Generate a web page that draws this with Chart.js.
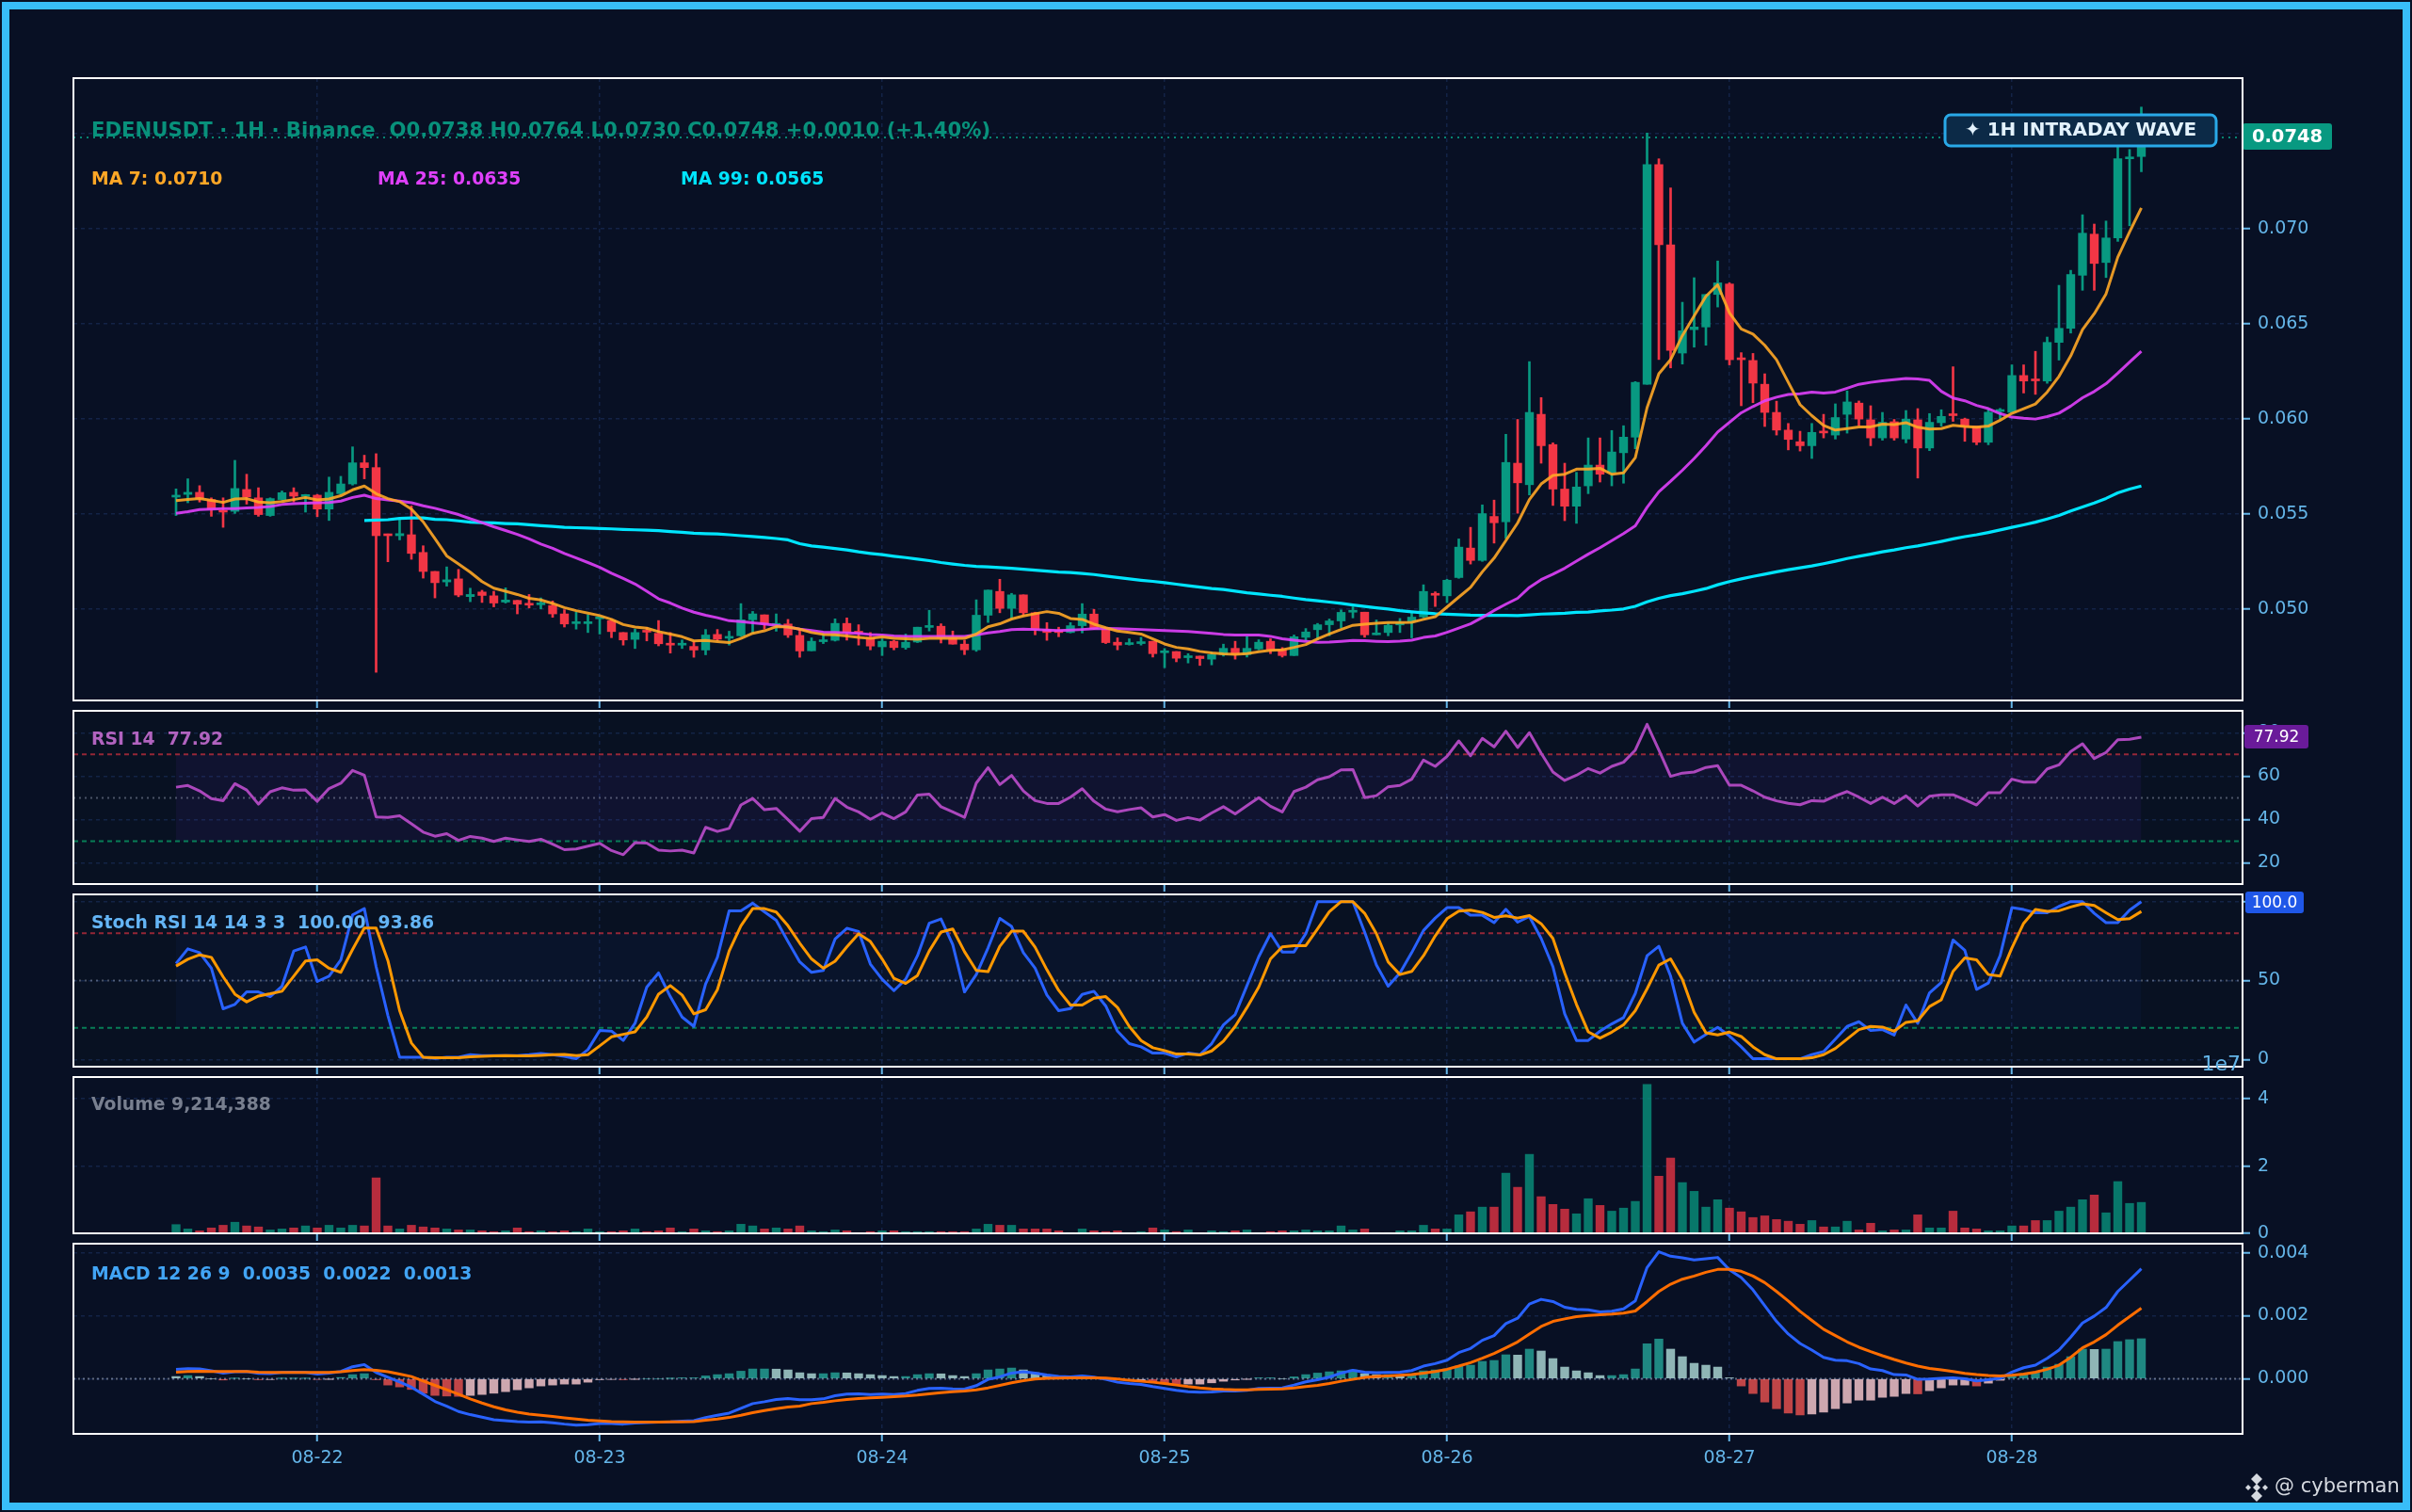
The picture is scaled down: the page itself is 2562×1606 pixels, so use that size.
<!DOCTYPE html>
<html lang="en">
  <head>
    <meta charset="UTF-8" />
    <title>EDENUSDT 1H</title>
    <script src="https://cdn.jsdelivr.net/npm/chart.js"></script>
    <style>
      html, body { margin: 0; padding: 0; background: #081024; }
      body { width: 2562px; height: 1606px; position: relative; overflow: hidden; }
      canvas { position: absolute; left: 0; }
      #frame {
        position: absolute; left: 2px; top: 2px; width: 2542px; height: 1586px;
        border: 8px solid #38bdf8; pointer-events: none; z-index: 5;
      }
    </style>
  </head>
  <body>
    <div id="frame"></div>
    <script>
      // one candle per hour, 08-21 12:00 to 08-28 11:00 (12 values per row)
      const opens = [
        0.0559, 0.05604, 0.05615, 0.05577, 0.0552, 0.05515, 0.0563, 0.05586, 0.05493, 0.05577, 0.05615, 0.05593,
        0.056, 0.05527, 0.05608, 0.05659, 0.0577, 0.05745, 0.05396, 0.05387, 0.05392, 0.05299, 0.05199, 0.05144,
        0.0516, 0.05067, 0.05091, 0.05071, 0.05038, 0.05047, 0.05027, 0.05024, 0.0502, 0.04976, 0.04925, 0.04925,
        0.0495, 0.0494, 0.04878, 0.04842, 0.04887, 0.04874, 0.04819, 0.04812, 0.04805, 0.04786, 0.04868, 0.04848,
        0.04861, 0.04945, 0.04971, 0.04916, 0.04923, 0.04863, 0.04782, 0.0483, 0.04837, 0.04926, 0.04885, 0.04853,
        0.04803, 0.04832, 0.04799, 0.04828, 0.04905, 0.04911, 0.0485, 0.04817, 0.04787, 0.04969, 0.05094, 0.05005,
        0.05076, 0.04982, 0.04894, 0.04889, 0.04878, 0.04914, 0.04975, 0.04898, 0.04827, 0.04815, 0.0482, 0.04832,
        0.04772, 0.04778, 0.04746, 0.04754, 0.04738, 0.04762, 0.04795, 0.04762, 0.04792, 0.04832, 0.04787, 0.04757,
        0.04853, 0.04893, 0.04919, 0.04939, 0.04985, 0.04985, 0.04866, 0.04878, 0.04918, 0.04936, 0.0496, 0.05084,
        0.05071, 0.05167, 0.05322, 0.05257, 0.05488, 0.0546, 0.05768, 0.05655, 0.06025, 0.05866, 0.05632, 0.05542,
        0.05649, 0.05758, 0.0572, 0.05823, 0.05905, 0.06183, 0.07337, 0.06916, 0.06347, 0.0647, 0.06484, 0.06655,
        0.0671, 0.0632, 0.06308, 0.06183, 0.06035, 0.05942, 0.05881, 0.0586, 0.05937, 0.05916, 0.06025, 0.06084,
        0.05996, 0.05901, 0.05986, 0.05895, 0.05996, 0.05848, 0.05981, 0.06024, 0.06, 0.05964, 0.05878, 0.0604,
        0.06035, 0.06229, 0.06205, 0.062, 0.06403, 0.06477, 0.06756, 0.06972, 0.06823, 0.06952, 0.07368, 0.0738,
      ];
      const closes = [
        0.056, 0.05615, 0.05582, 0.05527, 0.05511, 0.05635, 0.0559, 0.05498, 0.05582, 0.05613, 0.05595, 0.056,
        0.05527, 0.05615, 0.05659, 0.0577, 0.05745, 0.05387, 0.05387, 0.05398, 0.05294, 0.05199, 0.0514, 0.05155,
        0.05075, 0.05078, 0.05073, 0.05033, 0.05049, 0.05027, 0.05022, 0.05029, 0.04976, 0.04923, 0.0493, 0.04932,
        0.04953, 0.04883, 0.04839, 0.04878, 0.0488, 0.04819, 0.04812, 0.04819, 0.04786, 0.04865, 0.04843, 0.04854,
        0.04945, 0.04976, 0.04923, 0.0492, 0.04865, 0.04781, 0.04832, 0.04835, 0.04926, 0.04878, 0.04875, 0.04807,
        0.04832, 0.04799, 0.04827, 0.04906, 0.04909, 0.0485, 0.04817, 0.04787, 0.04969, 0.05101, 0.05005, 0.05076,
        0.04982, 0.04894, 0.04878, 0.04878, 0.04914, 0.04975, 0.04898, 0.04825, 0.04812, 0.0482, 0.04828, 0.04767,
        0.04778, 0.04743, 0.04751, 0.04741, 0.04762, 0.04795, 0.04762, 0.04795, 0.04827, 0.04787, 0.04757, 0.04856,
        0.04881, 0.04919, 0.04939, 0.04984, 0.04988, 0.04866, 0.0487, 0.04916, 0.0492, 0.04959, 0.05094, 0.05074,
        0.05153, 0.05327, 0.05257, 0.05503, 0.05455, 0.05772, 0.05665, 0.06035, 0.0586, 0.05632, 0.05542, 0.05643,
        0.05758, 0.0571, 0.05827, 0.05905, 0.06193, 0.07337, 0.06916, 0.06361, 0.06464, 0.06484, 0.06655, 0.06716,
        0.06312, 0.06312, 0.06189, 0.06035, 0.05942, 0.05893, 0.0586, 0.0593, 0.05927, 0.06008, 0.0609, 0.06,
        0.05901, 0.05983, 0.05901, 0.06, 0.05848, 0.05983, 0.06014, 0.06018, 0.0596, 0.05878, 0.06036, 0.06045,
        0.06229, 0.062, 0.06201, 0.06403, 0.06477, 0.0676, 0.06977, 0.06818, 0.06952, 0.07368, 0.07376, 0.0748,
      ];
      const highs = [
        0.05633, 0.05686, 0.0565, 0.05586, 0.05586, 0.05783, 0.0571, 0.05639, 0.05586, 0.05622, 0.05639, 0.05604,
        0.05604, 0.05695, 0.05699, 0.05854, 0.0581, 0.05818, 0.05396, 0.05476, 0.05544, 0.05334, 0.05199, 0.05223,
        0.0521, 0.05111, 0.051, 0.05095, 0.05113, 0.05047, 0.05078, 0.0506, 0.05044, 0.04998, 0.04985, 0.04972,
        0.04955, 0.04949, 0.04878, 0.04896, 0.04905, 0.04941, 0.04878, 0.04839, 0.0483, 0.04894, 0.04894, 0.04885,
        0.0503, 0.04989, 0.04971, 0.04976, 0.04947, 0.04896, 0.0485, 0.0487, 0.0495, 0.04955, 0.04919, 0.04878,
        0.04845, 0.04837, 0.0487, 0.04906, 0.04995, 0.04924, 0.04886, 0.04837, 0.0505, 0.05101, 0.05158, 0.05084,
        0.05076, 0.04985, 0.0493, 0.04906, 0.0493, 0.0503, 0.05, 0.04903, 0.0485, 0.04845, 0.04853, 0.04832,
        0.04794, 0.04778, 0.04767, 0.04754, 0.04777, 0.04817, 0.04832, 0.04856, 0.0484, 0.04845, 0.04799, 0.04865,
        0.04899, 0.04926, 0.04949, 0.04997, 0.05013, 0.04985, 0.04944, 0.04927, 0.04952, 0.04982, 0.05129, 0.05092,
        0.05158, 0.0537, 0.05431, 0.05549, 0.05574, 0.0592, 0.05998, 0.06302, 0.06113, 0.05875, 0.05768, 0.0572,
        0.05901, 0.05901, 0.0594, 0.05965, 0.06197, 0.07503, 0.07368, 0.07215, 0.06614, 0.06743, 0.06655, 0.06831,
        0.06716, 0.06349, 0.06345, 0.06238, 0.06094, 0.05977, 0.05936, 0.05977, 0.06025, 0.0608, 0.06148, 0.06095,
        0.0607, 0.06035, 0.05998, 0.06045, 0.06055, 0.06029, 0.06049, 0.06275, 0.06005, 0.05964, 0.0605, 0.06056,
        0.06285, 0.06285, 0.06356, 0.06431, 0.06703, 0.06782, 0.07074, 0.07025, 0.07041, 0.075, 0.07417, 0.0764,
      ];
      const lows = [
        0.05493, 0.0556, 0.05564, 0.05489, 0.05431, 0.05504, 0.05553, 0.05489, 0.05489, 0.05573, 0.05564, 0.05511,
        0.05487, 0.05467, 0.05604, 0.05653, 0.05686, 0.04669, 0.0525, 0.05365, 0.05263, 0.05164, 0.0506, 0.05122,
        0.05066, 0.0504, 0.05036, 0.05013, 0.05033, 0.04976, 0.05007, 0.05002, 0.04958, 0.04907, 0.04896, 0.04878,
        0.0487, 0.04851, 0.04812, 0.04794, 0.04834, 0.04808, 0.0477, 0.04794, 0.04748, 0.04761, 0.04834, 0.04812,
        0.04857, 0.04874, 0.04896, 0.04885, 0.04852, 0.04748, 0.04782, 0.0482, 0.04833, 0.04838, 0.04812, 0.04787,
        0.04757, 0.04787, 0.0479, 0.04825, 0.04886, 0.04823, 0.04817, 0.04762, 0.04779, 0.04931, 0.04982, 0.04952,
        0.04969, 0.04866, 0.04837, 0.04856, 0.04876, 0.04876, 0.04894, 0.0482, 0.04787, 0.04812, 0.04812, 0.04749,
        0.04693, 0.04724, 0.04718, 0.04705, 0.04708, 0.04754, 0.04738, 0.04749, 0.04787, 0.04767, 0.04749, 0.04757,
        0.04837, 0.0484, 0.04861, 0.04903, 0.04955, 0.04853, 0.04866, 0.04861, 0.04878, 0.0485, 0.04955, 0.05015,
        0.05035, 0.05163, 0.05238, 0.05252, 0.05348, 0.05372, 0.05505, 0.05601, 0.05768, 0.05546, 0.05466, 0.05452,
        0.05608, 0.05669, 0.05649, 0.05663, 0.05844, 0.06183, 0.06313, 0.06269, 0.06289, 0.06378, 0.06388, 0.06589,
        0.06285, 0.0607, 0.06086, 0.05961, 0.05916, 0.05838, 0.05832, 0.05793, 0.05901, 0.05895, 0.05926, 0.05967,
        0.0586, 0.05889, 0.05889, 0.05875, 0.0569, 0.05834, 0.05963, 0.05988, 0.05883, 0.05865, 0.05865, 0.06,
        0.06035, 0.06137, 0.0613, 0.06188, 0.0631, 0.06452, 0.06677, 0.06677, 0.06744, 0.06934, 0.07016, 0.073,
      ];
      const ma7 = [
        0.05571, 0.05577, 0.05582, 0.05573, 0.05562, 0.0558, 0.05582, 0.05564, 0.0556, 0.05566, 0.05577, 0.05588,
        0.05575, 0.0558, 0.05597, 0.05628, 0.05648, 0.05608, 0.05582, 0.05566, 0.05527, 0.0546, 0.05372, 0.05281,
        0.05239, 0.05195, 0.05146, 0.05111, 0.05095, 0.05078, 0.05058, 0.05049, 0.05031, 0.05009, 0.04993, 0.0498,
        0.04967, 0.04947, 0.0492, 0.04907, 0.04901, 0.04883, 0.0487, 0.04856, 0.04834, 0.04836, 0.0483, 0.04825,
        0.04847, 0.04874, 0.04887, 0.04909, 0.04907, 0.04896, 0.04878, 0.04868, 0.04866, 0.0486, 0.04853, 0.04847,
        0.04855, 0.04848, 0.04845, 0.04843, 0.04847, 0.04848, 0.04848, 0.04847, 0.0487, 0.04908, 0.04924, 0.04949,
        0.04965, 0.04977, 0.04988, 0.04979, 0.04952, 0.04947, 0.04922, 0.04903, 0.04886, 0.04878, 0.0487, 0.04845,
        0.04818, 0.048, 0.04792, 0.04779, 0.04771, 0.04766, 0.04764, 0.04767, 0.04777, 0.04784, 0.04787, 0.048,
        0.04815, 0.04845, 0.0487, 0.04894, 0.04916, 0.04922, 0.04927, 0.04931, 0.04931, 0.04932, 0.04947, 0.04961,
        0.05012, 0.05064, 0.05115, 0.05197, 0.05269, 0.05361, 0.05454, 0.05577, 0.05659, 0.05704, 0.0571, 0.05737,
        0.05737, 0.05741, 0.0571, 0.05717, 0.05797, 0.0606, 0.06238, 0.06312, 0.06439, 0.06542, 0.06645, 0.06706,
        0.06558, 0.06474, 0.06447, 0.06388, 0.06312, 0.06193, 0.06076, 0.06018, 0.05967, 0.05942, 0.0595, 0.05959,
        0.05959, 0.05973, 0.05971, 0.05981, 0.05957, 0.05947, 0.0595, 0.05967, 0.05961, 0.05957, 0.05963, 0.05994,
        0.0603, 0.06054, 0.06079, 0.06142, 0.06224, 0.06332, 0.0647, 0.06554, 0.06658, 0.06851, 0.06983, 0.0711,
      ];
      const ma25 = [
        0.05504, 0.05513, 0.05524, 0.05527, 0.05529, 0.05529, 0.05533, 0.05535, 0.0554, 0.05551, 0.05555, 0.05558,
        0.0556, 0.05562, 0.05569, 0.05588, 0.056, 0.05582, 0.05575, 0.05569, 0.0556, 0.05544, 0.05531, 0.05515,
        0.05498, 0.05476, 0.05456, 0.05434, 0.05414, 0.05394, 0.0537, 0.05343, 0.05321, 0.05294, 0.0527, 0.05246,
        0.05221, 0.0519, 0.05162, 0.05133, 0.05095, 0.05055, 0.05033, 0.05007, 0.04985, 0.04969, 0.04956, 0.0494,
        0.04936, 0.04929, 0.04923, 0.04916, 0.04907, 0.04896, 0.04888, 0.0488, 0.04878, 0.04876, 0.04873, 0.04868,
        0.04865, 0.0486, 0.04858, 0.04858, 0.04858, 0.04858, 0.04858, 0.04858, 0.04866, 0.04876, 0.04883, 0.04893,
        0.04896, 0.04894, 0.04891, 0.04889, 0.04891, 0.04894, 0.04898, 0.04899, 0.04898, 0.04896, 0.04894, 0.04891,
        0.04889, 0.04886, 0.04883, 0.04878, 0.04873, 0.04868, 0.04865, 0.04865, 0.04865, 0.04858, 0.04845, 0.04838,
        0.04832, 0.04827, 0.04828, 0.04832, 0.04837, 0.04835, 0.04832, 0.0483, 0.04833, 0.04838, 0.04852, 0.0486,
        0.04879, 0.04901, 0.04924, 0.04957, 0.04994, 0.05027, 0.05058, 0.05115, 0.05156, 0.05185, 0.05216, 0.05253,
        0.0529, 0.05324, 0.05361, 0.05398, 0.05439, 0.05536, 0.05618, 0.05673, 0.05731, 0.05793, 0.0586, 0.05932,
        0.05983, 0.06033, 0.06066, 0.06096, 0.06115, 0.06129, 0.06133, 0.06142, 0.06137, 0.06142, 0.06162, 0.06183,
        0.06193, 0.06201, 0.06207, 0.06213, 0.06211, 0.06203, 0.06146, 0.06111, 0.06096, 0.06072, 0.06055, 0.06029,
        0.0601, 0.06004, 0.06, 0.06013, 0.06031, 0.06068, 0.06112, 0.06145, 0.06186, 0.06241, 0.06299, 0.06356,
      ];
      const ma99 = [
        null, null, null, null, null, null, null, null, null, null, null, null,
        null, null, null, null, 0.05467, 0.05469, 0.05471, 0.05478, 0.0548, 0.0548, 0.05473, 0.05471,
        0.05465, 0.05458, 0.05456, 0.05454, 0.05451, 0.05449, 0.05445, 0.0544, 0.05436, 0.05431, 0.05429, 0.05427,
        0.05425, 0.05423, 0.0542, 0.05418, 0.05416, 0.05414, 0.05409, 0.05405, 0.054, 0.05398, 0.05396, 0.05392,
        0.05387, 0.05383, 0.05378, 0.05372, 0.05365, 0.05345, 0.05333, 0.05327, 0.0532, 0.05312, 0.05302, 0.05294,
        0.05287, 0.05279, 0.05272, 0.05264, 0.05256, 0.05246, 0.05238, 0.05231, 0.05226, 0.05223, 0.05219, 0.05216,
        0.05211, 0.05206, 0.05201, 0.05196, 0.05193, 0.05188, 0.05183, 0.05175, 0.05167, 0.0516, 0.05153, 0.05147,
        0.0514, 0.05132, 0.05124, 0.05117, 0.05109, 0.05104, 0.05096, 0.05087, 0.05081, 0.05074, 0.05068, 0.05059,
        0.05051, 0.05045, 0.05038, 0.05031, 0.05023, 0.05015, 0.05008, 0.05002, 0.04993, 0.04987, 0.04982, 0.04977,
        0.04974, 0.04972, 0.04969, 0.04968, 0.04968, 0.04968, 0.04967, 0.04971, 0.04975, 0.04977, 0.04979, 0.04984,
        0.04986, 0.04992, 0.04996, 0.05002, 0.05016, 0.05039, 0.05058, 0.05072, 0.05082, 0.05095, 0.05109, 0.05129,
        0.05146, 0.0516, 0.05173, 0.05185, 0.05197, 0.05208, 0.05218, 0.05228, 0.0524, 0.05253, 0.05267, 0.05279,
        0.0529, 0.05302, 0.05312, 0.05324, 0.05333, 0.05345, 0.05357, 0.0537, 0.05382, 0.05392, 0.05404, 0.05417,
        0.05431, 0.05444, 0.05458, 0.05475, 0.05493, 0.05517, 0.05538, 0.05559, 0.05583, 0.05612, 0.05632, 0.05648,
      ];
      const rsi = [
        54.9, 55.7, 53.2, 49.6, 48.7, 56.5, 53.6, 47.1, 52.8, 54.6, 53.5, 53.6,
        48.4, 54.3, 56.7, 62.6, 60.4, 41.2, 41, 41.7, 38, 34.2, 32.3, 33.5,
        30.4, 32.2, 31.4, 29.9, 31.4, 30.6, 29.9, 30.9, 28.6, 26.1, 26.4, 27.7,
        29, 25.7, 23.8, 29.3, 29.1, 25.9, 25.5, 25.9, 24.6, 36.4, 34.5, 35.9,
        46.7, 49.7, 44.5, 45.1, 39.9, 34.6, 40.4, 41, 49.7, 45.7, 43.5, 40.1,
        43, 40.4, 43.5, 51.3, 51.7, 45.9, 43.5, 41, 56.8, 63.9, 56.1, 60.3,
        53.2, 48.7, 47.4, 47.4, 50.3, 54.2, 48.4, 44.8, 43.6, 44.6, 45.4, 41.2,
        42.3, 39.6, 40.9, 39.7, 43, 45.9, 42.6, 46.4, 50.1, 46.1, 43.5, 52.9,
        54.9, 58.3, 59.7, 62.9, 63, 50.1, 51, 55.1, 55.7, 58.6, 67.4, 64.5,
        69.1, 76.2, 69.4, 77.4, 73.5, 80.7, 73.2, 80, 70.6, 61.9, 58, 60.4,
        63.5, 61.4, 64.5, 66.4, 72, 83.9, 72, 59.9, 61.4, 61.9, 64, 64.8,
        55.8, 55.8, 53.2, 50.3, 48.6, 47.5, 46.8, 48.7, 48.4, 50.9, 52.9, 50.3,
        47.4, 50.3, 47.4, 50.9, 46.2, 50.7, 51.4, 51.4, 49.1, 46.7, 52.3, 52.3,
        58.6, 57.2, 57.2, 63.3, 65.2, 71.3, 74.9, 68.1, 70.9, 76.8, 77, 77.92,
      ];
      const stochK = [
        60.8, 70.1, 67.7, 57.8, 32.1, 34.9, 42.8, 42.8, 39.8, 46.4, 68.7, 71.3,
        49.4, 52.8, 63.1, 91.6, 95.6, 58.8, 27.9, 1.4, 1.4, 1.4, 0.6, 1.4,
        1.4, 3, 2.4, 2.4, 2.4, 2.4, 3, 3.8, 3, 2, 0.4, 6.2,
        18.3, 18, 12, 22.9, 45.8, 54.8, 39.8, 26.9, 20.9, 47.8, 64.7, 94.2,
        94.2, 99, 93.6, 88.2, 74.7, 61.8, 55.2, 56.4, 76.3, 83.1, 81.1, 60.4,
        50.8, 43.6, 50.8, 65.7, 86.3, 89, 72.7, 42.8, 53.8, 70.7, 89.4, 84.3,
        67.7, 57.8, 40.8, 30.9, 32.3, 41.2, 43.2, 33.9, 17.9, 10, 8, 4,
        4, 1.6, 4, 3, 10, 21.9, 28.5, 46.8, 65.1, 79.7, 68.1, 68.1,
        79.7, 100, 100, 100, 100, 80.7, 59.8, 46.4, 54.8, 67.7, 81.7, 89.6,
        96.2, 96.2, 91.4, 91.4, 86.7, 95.2, 87, 90.6, 76.7, 58.8, 28.9, 12,
        12, 17.9, 22.5, 26.5, 41.8, 65.7, 71.7, 52.8, 22.9, 11, 15.9, 20.3,
        14.9, 8, 0.4, 0.4, 0.4, 0.4, 0.4, 3, 5, 12.9, 20.9, 23.9,
        18.3, 18.9, 15.5, 34.5, 22.9, 42.2, 48.8, 75.7, 69.1, 44.4, 48.4, 65.7,
        96.2, 95, 93, 93, 97, 100, 100, 92.6, 86.7, 86.7, 94.6, 100,
      ];
      const stochD = [
        59.2, 63.5, 66.3, 64.7, 52.4, 41.4, 36.5, 40.2, 41.6, 43.2, 52.8, 62.4,
        63.1, 57.8, 55.2, 69.7, 83.3, 83.3, 62.7, 30.9, 10.4, 1.4, 1, 1,
        1, 1.6, 2, 2.2, 2.4, 2.2, 2.2, 2.6, 3, 3.2, 2.4, 3,
        8.6, 14.3, 15.9, 17.5, 26.9, 41.4, 46.8, 40.8, 28.9, 31.5, 44.2, 68.7,
        84.7, 95.6, 95.6, 93.4, 84.7, 73.7, 63.7, 57.8, 62.2, 71.3, 79.7, 74.7,
        63.7, 51.4, 48.2, 53.2, 68.7, 80.7, 82.7, 68.3, 56.4, 55.6, 71.7, 81.3,
        81.3, 71.1, 56.8, 43.8, 34.5, 34.5, 38.8, 39.8, 32.9, 20.9, 12, 7.4,
        5.6, 3.4, 3.4, 2.8, 5.4, 11.6, 20.9, 32.9, 45.8, 63.7, 71.3, 72.1,
        72.1, 82.7, 93.6, 100, 100, 92.6, 79.7, 61.8, 53.8, 55.8, 65.7, 78.3,
        89.2, 94, 94.6, 93.2, 90, 91, 89.6, 91.2, 86, 76.7, 54.8, 34.9,
        17.5, 13.5, 17.3, 21.9, 30.9, 44.8, 59.8, 63.7, 50.8, 29.9, 16.9, 15.5,
        17.3, 14.5, 8, 3, 0.4, 0.4, 0.4, 1, 3, 7, 12.9, 18.9,
        20.9, 20.5, 17.9, 23.5, 24.5, 33.5, 37.8, 55.8, 64.3, 63.1, 53.8, 52.8,
        70.7, 86.3, 95, 93.8, 94.2, 96.6, 98.6, 97.6, 93, 88.6, 89.2, 93.8,
      ];
      // volume in units of 1e7
      const volumes = [
        0.26, 0.13, 0.075, 0.16, 0.24, 0.33, 0.22, 0.19, 0.1, 0.13, 0.16, 0.22,
        0.16, 0.24, 0.16, 0.24, 0.22, 1.65, 0.22, 0.13, 0.24, 0.19, 0.16, 0.13,
        0.1, 0.1, 0.075, 0.05, 0.075, 0.16, 0.05, 0.075, 0.05, 0.075, 0.05, 0.13,
        0.05, 0.05, 0.075, 0.13, 0.05, 0.075, 0.16, 0.05, 0.13, 0.075, 0.05, 0.075,
        0.27, 0.22, 0.13, 0.16, 0.13, 0.22, 0.075, 0.05, 0.1, 0.075, 0.02, 0.05,
        0.075, 0.075, 0.05, 0.05, 0.05, 0.05, 0.05, 0.05, 0.13, 0.27, 0.24, 0.24,
        0.13, 0.13, 0.13, 0.075, 0.02, 0.13, 0.075, 0.05, 0.075, 0.02, 0.05, 0.16,
        0.1, 0.05, 0.1, 0.02, 0.075, 0.05, 0.075, 0.1, 0.02, 0.05, 0.075, 0.075,
        0.1, 0.075, 0.075, 0.22, 0.1, 0.13, 0.02, 0.02, 0.075, 0.075, 0.24, 0.13,
        0.13, 0.55, 0.64, 0.78, 0.78, 1.79, 1.37, 2.35, 1.09, 0.86, 0.72, 0.58,
        1.03, 0.83, 0.66, 0.75, 0.95, 4.43, 1.7, 2.24, 1.51, 1.25, 0.78, 1,
        0.75, 0.64, 0.47, 0.52, 0.41, 0.36, 0.27, 0.38, 0.19, 0.19, 0.36, 0.1,
        0.3, 0.075, 0.1, 0.1, 0.55, 0.16, 0.16, 0.66, 0.16, 0.13, 0.075, 0.075,
        0.22, 0.22, 0.38, 0.38, 0.66, 0.78, 1, 1.14, 0.61, 1.54, 0.89, 0.92,
      ];
      // macd series in units of 0.001
      const macdLine = [
        0.3, 0.32, 0.31, 0.25, 0.18, 0.22, 0.23, 0.17, 0.16, 0.2, 0.21, 0.2,
        0.15, 0.18, 0.23, 0.38, 0.45, 0.2, 0.05, -0.1, -0.27, -0.49, -0.72, -0.87,
        -1.04, -1.14, -1.22, -1.3, -1.33, -1.36, -1.38, -1.37, -1.4, -1.44, -1.47, -1.46,
        -1.42, -1.42, -1.44, -1.41, -1.39, -1.38, -1.37, -1.35, -1.33, -1.23, -1.16, -1.09,
        -0.94, -0.79, -0.73, -0.66, -0.63, -0.67, -0.67, -0.64, -0.54, -0.49, -0.48, -0.5,
        -0.49, -0.5, -0.47, -0.37, -0.31, -0.3, -0.32, -0.33, -0.22, -0.02, 0.06, 0.18,
        0.22, 0.18, 0.12, 0.07, 0.06, 0.09, 0.05, -0.02, -0.11, -0.15, -0.18, -0.25,
        -0.31, -0.37, -0.41, -0.43, -0.42, -0.39, -0.39, -0.37, -0.31, -0.3, -0.29, -0.2,
        -0.1, -0.03, 0.05, 0.18, 0.27, 0.21, 0.19, 0.2, 0.21, 0.26, 0.4, 0.48,
        0.59, 0.83, 0.96, 1.22, 1.37, 1.75, 1.92, 2.37, 2.52, 2.45, 2.27, 2.2,
        2.19, 2.12, 2.14, 2.22, 2.47, 3.53, 4.03, 3.89, 3.84, 3.77, 3.81, 3.85,
        3.46, 3.21, 2.82, 2.32, 1.82, 1.42, 1.12, 0.91, 0.68, 0.59, 0.57, 0.48,
        0.31, 0.26, 0.13, 0.12, -0.02, -0.01, 0.01, 0.03, 0, -0.07, -0.03, 0.01,
        0.21, 0.35, 0.43, 0.65, 0.91, 1.32, 1.77, 1.99, 2.26, 2.77, 3.13, 3.49,
      ];
      const macdSignal = [
        0.21, 0.23, 0.24, 0.23, 0.23, 0.23, 0.23, 0.21, 0.2, 0.2, 0.2, 0.2,
        0.2, 0.2, 0.22, 0.26, 0.29, 0.27, 0.22, 0.15, 0.07, -0.07, -0.21, -0.35,
        -0.49, -0.64, -0.77, -0.89, -0.99, -1.06, -1.12, -1.16, -1.2, -1.24, -1.28, -1.32,
        -1.34, -1.36, -1.37, -1.38, -1.38, -1.38, -1.37, -1.37, -1.36, -1.32, -1.28, -1.23,
        -1.16, -1.08, -1.01, -0.95, -0.9, -0.87, -0.79, -0.75, -0.7, -0.66, -0.63, -0.61,
        -0.59, -0.57, -0.55, -0.52, -0.48, -0.44, -0.41, -0.39, -0.35, -0.29, -0.21, -0.13,
        -0.06, -0.01, 0.01, 0.02, 0.03, 0.03, 0.03, 0.02, -0.01, -0.05, -0.08, -0.11,
        -0.15, -0.2, -0.25, -0.29, -0.32, -0.34, -0.35, -0.35, -0.34, -0.33, -0.32, -0.29,
        -0.25, -0.21, -0.15, -0.08, -0.02, 0.04, 0.07, 0.09, 0.11, 0.13, 0.18, 0.23,
        0.3, 0.4, 0.51, 0.65, 0.8, 0.98, 1.17, 1.42, 1.66, 1.82, 1.9, 1.97,
        2.01, 2.03, 2.05, 2.08, 2.15, 2.45, 2.77, 3, 3.16, 3.26, 3.38, 3.47,
        3.47, 3.41, 3.26, 3.05, 2.77, 2.47, 2.14, 1.85, 1.57, 1.37, 1.17, 1,
        0.86, 0.73, 0.61, 0.5, 0.4, 0.33, 0.28, 0.23, 0.17, 0.13, 0.1, 0.09,
        0.11, 0.15, 0.21, 0.3, 0.43, 0.68, 0.98, 1.17, 1.4, 1.7, 1.97, 2.24,
      ];
      const macdHist = [
        0.07, 0.1, 0.07, 0, -0.04, 0.01, 0, -0.03, -0.025, 0.01, 0.01, 0.01,
        -0.02, -0.01, 0.04, 0.13, 0.16, -0.03, -0.2, -0.26, -0.34, -0.46, -0.53, -0.55,
        -0.56, -0.53, -0.5, -0.46, -0.41, -0.35, -0.29, -0.23, -0.2, -0.17, -0.17, -0.11,
        -0.03, -0.02, -0.03, -0.01, 0, 0, 0.005, 0.03, 0.03, 0.09, 0.13, 0.16,
        0.24, 0.31, 0.31, 0.305, 0.28, 0.19, 0.16, 0.16, 0.19, 0.185, 0.16, 0.13,
        0.1, 0.07, 0.07, 0.13, 0.16, 0.155, 0.1, 0.07, 0.16, 0.28, 0.31, 0.34,
        0.28, 0.19, 0.1, 0.07, 0.04, 0.04, 0.02, 0.01, -0.02, -0.07, -0.07, -0.09,
        -0.13, -0.17, -0.17, -0.17, -0.13, -0.08, -0.04, -0.01, 0.03, 0.03, 0, 0.06,
        0.13, 0.18, 0.22, 0.25, 0.28, 0.16, 0.13, 0.13, 0.1, 0.13, 0.25, 0.28,
        0.31, 0.4, 0.43, 0.55, 0.58, 0.76, 0.75, 0.94, 0.88, 0.64, 0.37, 0.25,
        0.19, 0.1, 0.1, 0.13, 0.31, 1.11, 1.26, 0.94, 0.7, 0.49, 0.43, 0.37,
        0.03, -0.23, -0.47, -0.74, -0.95, -1.09, -1.15, -1.12, -1.06, -0.95, -0.77, -0.68,
        -0.68, -0.59, -0.56, -0.47, -0.48, -0.38, -0.29, -0.2, -0.2, -0.23, -0.14, -0.05,
        0.07, 0.13, 0.18, 0.37, 0.46, 0.7, 0.94, 0.93, 0.94, 1.18, 1.24, 1.27,
      ];
      // day ticks: candle index of each midnight and its label
      const dayIndex = [12, 36, 60, 84, 108, 132, 156];
      const dayLabels = ["08-22", "08-23", "08-24", "08-25", "08-26", "08-27", "08-28"];
      const priceTicks = [0.05, 0.055, 0.06, 0.065, 0.07, 0.075];
      const rsiTicks = [20, 40, 60, 80];
      const stochTicks = [0, 50, 100];
      const volumeTicks = [0, 2, 4];
      const macdTicks = [0, 2, 4];
      const lastPrice = 0.0748;

      const GREEN = "#089981";
      const RED = "#f23645";
      const TICK = "#64b5e8";
      const GRID = "rgba(41,72,140,0.34)";
      const PANEL = "#081024";
      const FONT = '"DejaVu Sans"';
      const PAD = 40;
      const XMIN = -8.72;
      const XMAX = 175.6;
      const lastIdx = closes.length - 1;

      const pts = (arr) => arr.map((v, i) => ({ x: i, y: v }));
      const up = (i) => closes[i] >= opens[i];

      function lineSet(arr, color, width, order) {
        return {
          type: "line", data: pts(arr), borderColor: color, borderWidth: width,
          pointRadius: 0, tension: 0, fill: false, order: order, borderJoinStyle: "round",
        };
      }
      function levelSet(y, color, dash) {
        return {
          type: "line", data: [{ x: XMIN, y: y }, { x: XMAX, y: y }], borderColor: color,
          borderWidth: 2, borderDash: dash, pointRadius: 0, fill: false, order: 5,
        };
      }
      function bandSet(top, bottom, color) {
        return {
          type: "line", data: [{ x: 0, y: top }, { x: lastIdx, y: top }], borderWidth: 0,
          backgroundColor: color, fill: { value: bottom }, pointRadius: 0, order: 9,
        };
      }

      function text(ctx, str, x, y, font, color, align) {
        ctx.font = font;
        ctx.fillStyle = color;
        ctx.textAlign = align || "left";
        ctx.textBaseline = "middle";
        ctx.fillText(str, x, y);
      }
      function badge(ctx, x, y, w, h, fill, str, font) {
        ctx.beginPath();
        ctx.roundRect(x, y, w, h, 3);
        ctx.fillStyle = fill;
        ctx.fill();
        text(ctx, str, x + w / 2, y + h / 2 + 1, font, "#ffffff", "center");
      }

      function makePanel(id, top, bottom, cfg) {
        const plotH = bottom - top;
        const lastPanel = !!cfg.showDates;
        const belowH = lastPanel ? 1606 - bottom : 30;
        const canvas = document.createElement("canvas");
        canvas.id = id;
        canvas.width = 2562;
        canvas.height = PAD + plotH + belowH;
        canvas.style.top = top - PAD + "px";
        document.body.appendChild(canvas);

        // everything below is in canvas pixels, dy turns page y into canvas y
        const dy = PAD - top;
        return new Chart(canvas.getContext("2d"), {
          type: "bar",
          data: { datasets: cfg.datasets },
          options: {
            responsive: false,
            animation: false,
            devicePixelRatio: 1,
            events: [],
            layout: { autoPadding: false, padding: { left: 78, top: PAD, right: 0, bottom: 0 } },
            plugins: { legend: { display: false }, tooltip: { enabled: false } },
            scales: {
              x: {
                type: "linear", min: XMIN, max: XMAX, offset: false,
                border: { display: false, dash: [4, 4] },
                grid: { offset: false, color: GRID, lineWidth: 1.5, tickLength: 8, tickColor: TICK, tickWidth: 2 },
                afterFit: (s) => { s.height = belowH; },
                afterBuildTicks: (s) => { s.ticks = dayIndex.map((v) => ({ value: v })); },
                ticks: {
                  display: lastPanel, color: TICK, autoSkip: false, maxRotation: 0, padding: 7,
                  font: { family: FONT, size: 19 },
                  callback: (v) => dayLabels[dayIndex.indexOf(v)],
                },
              },
              y: {
                type: "linear", position: "right", min: cfg.yMin, max: cfg.yMax,
                border: { display: false, dash: [4, 4] },
                grid: { color: GRID, lineWidth: 1.5, tickLength: 8, tickColor: TICK, tickWidth: 2 },
                afterFit: (s) => { s.width = 180; },
                afterBuildTicks: (s) => { s.ticks = cfg.yTicks.map((v) => ({ value: v })); },
                ticks: {
                  color: TICK, padding: 8, autoSkip: false, font: { family: FONT, size: 19 },
                  callback: cfg.yFormat || ((v) => String(v)),
                },
              },
            },
          },
          plugins: [{
            id: "panelChrome",
            beforeDraw(chart) {
              const a = chart.chartArea;
              const c = chart.ctx;
              c.save();
              c.fillStyle = cfg.bg || PANEL;
              c.fillRect(a.left, a.top, a.width, a.height);
              c.restore();
            },
            afterDraw(chart) {
              const a = chart.chartArea;
              const c = chart.ctx;
              c.save();
              if (cfg.overlay) cfg.overlay(c, dy);
              c.strokeStyle = "#ffffff";
              c.lineWidth = 2;
              c.strokeRect(a.left, a.top, a.width, a.height);
              c.restore();
            },
          }],
        });
      }

      const BOLD = (s) => `bold ${s}px ${FONT}`;

      makePanel("price", 83, 744, {
        yMin: 0.04521, yMax: 0.07792, yTicks: priceTicks, yFormat: (v) => v.toFixed(3),
        datasets: [
          {
            label: "wick", data: opens.map((_, i) => ({ x: i, y: [lows[i], highs[i]] })), grouped: false,
            barThickness: 2, backgroundColor: opens.map((_, i) => (up(i) ? GREEN : RED)), order: 8,
          },
          {
            label: "body", data: opens.map((o, i) => ({ x: i, y: [o, closes[i]] })), grouped: false,
            barThickness: 8.75, minBarLength: 2, backgroundColor: opens.map((_, i) => (up(i) ? GREEN : RED)), order: 7,
          },
          levelSet(lastPrice, "rgba(8,153,129,0.85)", [2, 5]),
          lineSet(ma99, "#00e5ff", 3.2, 3),
          lineSet(ma25, "rgba(224,64,251,0.9)", 3, 2),
          lineSet(ma7, "rgba(255,167,38,0.9)", 3, 1),
        ],
        overlay(c, dy) {
          text(c, "EDENUSDT · 1H · Binance  O0.0738 H0.0764 L0.0730 C0.0748 +0.0010 (+1.40%)", 97, 139 + dy, BOLD(21.2), "rgba(8,153,129,0.95)");
          text(c, "MA 7: 0.0710", 97, 191 + dy, BOLD(18.8), "#ffa726");
          text(c, "MA 25: 0.0635", 401, 191 + dy, BOLD(18.8), "#e040fb");
          text(c, "MA 99: 0.0565", 723, 191 + dy, BOLD(18.8), "#00e5ff");
          // badge top right
          c.beginPath();
          c.roundRect(2066, 122 + dy, 288, 33, 6);
          c.fillStyle = "#0c2a47";
          c.fill();
          c.lineWidth = 3;
          c.strokeStyle = "#29a9e8";
          c.stroke();
          text(c, "✦ 1H INTRADAY WAVE", 2210, 139 + dy, BOLD(20), "#e3f2fd", "center");
          badge(c, 2382, 131 + dy, 95, 28, GREEN, "0.0748", BOLD(19.5));
        },
      });

      makePanel("rsi", 755, 939, {
        yMin: 10.26, yMax: 90.1, yTicks: rsiTicks, bg: "#081122",
        datasets: [
          bandSet(70, 30, "rgba(124,58,237,0.07)"),
          levelSet(70, "rgba(242,54,69,0.6)", [5, 4]),
          levelSet(50, "rgba(200,210,230,0.35)", [2, 4]),
          levelSet(30, "rgba(8,153,100,0.8)", [5, 4]),
          lineSet(rsi, "#ab47bc", 3, 1),
        ],
        overlay(c, dy) {
          text(c, "RSI 14  77.92", 97, 786 + dy, BOLD(18.8), "rgba(186,104,200,0.95)");
          badge(c, 2384, 770 + dy, 68, 25, "#6a1b9a", "77.92", `17px ${FONT}`);
        },
      });

      makePanel("stoch", 950, 1133, {
        yMin: -4.6, yMax: 104.6, yTicks: stochTicks, bg: "#081122",
        datasets: [
          bandSet(80, 20, "rgba(41,98,255,0.045)"),
          levelSet(80, "rgba(242,54,69,0.6)", [5, 4]),
          levelSet(50, "rgba(200,210,230,0.35)", [2, 4]),
          levelSet(20, "rgba(8,153,100,0.8)", [5, 4]),
          lineSet(stochK, "#2962ff", 3, 2),
          lineSet(stochD, "#ff9800", 3, 1),
        ],
        overlay(c, dy) {
          text(c, "Stoch RSI 14 14 3 3  100.00  93.86", 97, 981 + dy, BOLD(18.8), "#64b5f6");
          badge(c, 2385, 947 + dy, 62, 23, "#1f57e8", "100.0", `17px ${FONT}`);
        },
      });

      makePanel("volume", 1144, 1310, {
        yMin: 0, yMax: 4.65, yTicks: volumeTicks,
        datasets: [
          {
            data: pts(volumes), barThickness: 8.75, order: 5,
            backgroundColor: volumes.map((_, i) => (up(i) ? "rgba(8,153,129,0.75)" : "rgba(242,54,69,0.75)")),
          },
        ],
        overlay(c, dy) {
          text(c, "Volume 9,214,388", 97, 1174 + dy, BOLD(18.8), "#787f8f");
          text(c, "1e7", 2380, 1131 + dy, `22px ${FONT}`, TICK, "right");
        },
      });

      makePanel("macd", 1321, 1523, {
        yMin: -1.75, yMax: 4.287, yTicks: macdTicks, showDates: true,
        yFormat: (v) => (v / 1000).toFixed(3),
        datasets: [
          levelSet(0, "rgba(200,210,230,0.45)", [2, 3]),
          {
            data: pts(macdHist), barThickness: 8.75, order: 6,
            backgroundColor: macdHist.map((h, i) => {
              const prev = i ? macdHist[i - 1] : h + 1;
              if (h >= 0) return h >= prev ? "rgba(38,166,154,0.8)" : "rgba(178,223,219,0.8)";
              return h < prev ? "rgba(239,83,80,0.8)" : "rgba(255,205,210,0.8)";
            }),
          },
          lineSet(macdLine, "#2962ff", 3, 2),
          lineSet(macdSignal, "#ff6d00", 3, 1),
        ],
        overlay(c, dy) {
          text(c, "MACD 12 26 9  0.0035  0.0022  0.0013", 97, 1354 + dy, BOLD(18.8), "#42a5f5");
          // watermark, bottom right
          const cx = 2397;
          const cy = 1580 + dy;
          c.fillStyle = "#d5d9e0";
          [[0, -9, 6], [-9, 0, 3], [9, 0, 3], [0, 0, 4], [0, 9, 6]].forEach(([ox, oy, r]) => {
            c.beginPath();
            c.moveTo(cx + ox, cy + oy - r);
            c.lineTo(cx + ox + r, cy + oy);
            c.lineTo(cx + ox, cy + oy + r);
            c.lineTo(cx + ox - r, cy + oy);
            c.closePath();
            c.fill();
          });
          text(c, "@ cyberman", 2416, 1580 + dy, `21px ${FONT}`, "#d5d9e0");
        },
      });
    </script>
  </body>
</html>
